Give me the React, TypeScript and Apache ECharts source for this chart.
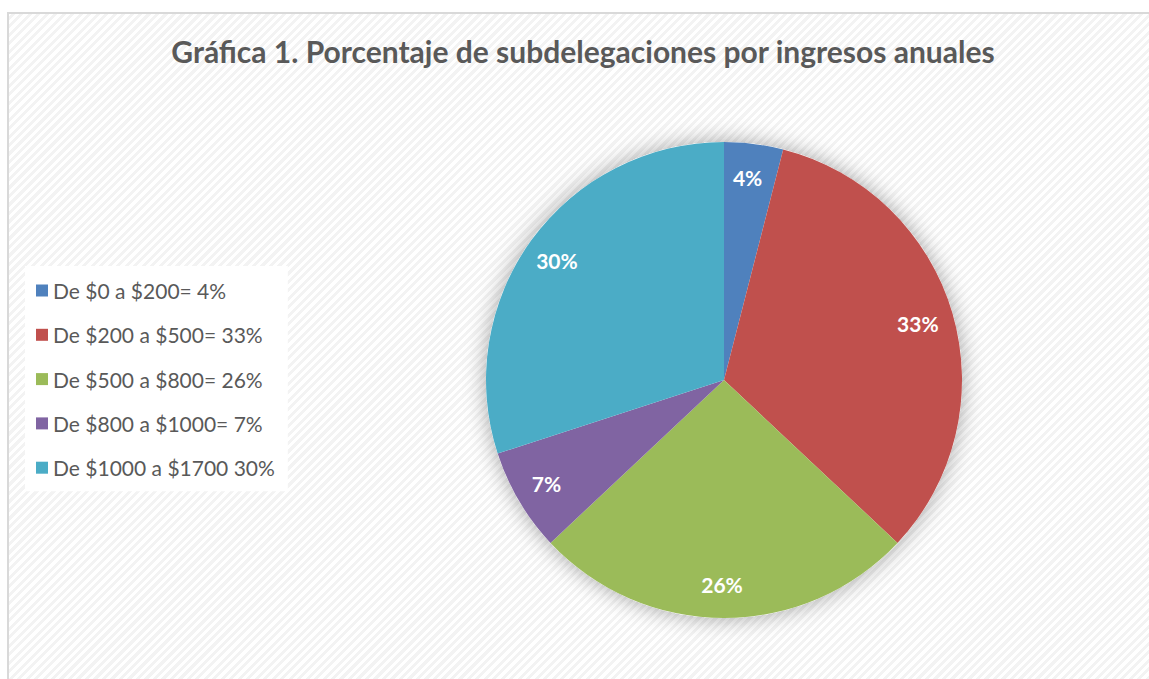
import React, { useEffect, useRef } from "react";
import * as echarts from "echarts";

const titleText = "Gráfica 1. Porcentaje de subdelegaciones por ingresos anuales";
const categories = [
  "De $0 a $200= 4%",
  "De $200 a $500= 33%",
  "De $500 a $800= 26%",
  "De $800 a $1000= 7%",
  "De $1000 a $1700 30%",
];
const values = [4, 33, 26, 7, 30];
const colors = ["#4F81BD", "#C0504D", "#9BBB59", "#8064A2", "#4BACC6"];

export default function App() {
  const ref = useRef<HTMLDivElement>(null);
  useEffect(() => {
    if (!ref.current) return;
    const chart = echarts.init(ref.current, undefined, { renderer: "svg" });
    const data = categories.map((name, i) => ({
      name,
      value: values[i],
      itemStyle: { color: colors[i] },
    }));
    chart.setOption({
      animation: false,
      backgroundColor: "transparent",
      title: {
        text: titleText,
        left: 578,
        textAlign: "center",
        top: 31,
        textStyle: {
          fontFamily: "Lato",
          fontWeight: "bold",
          fontSize: 30,
          color: "#595959",
        },
      },
      legend: {
        orient: "vertical",
        left: 25,
        top: 266,
        backgroundColor: "#ffffff",
        padding: [14, 13, 13, 11],
        icon: "rect",
        itemWidth: 12,
        itemHeight: 12,
        itemGap: 23.3,
        itemTextGap: 8,
        selectedMode: false,
        data: categories,
        textStyle: {
          fontFamily: "Lato",
          fontSize: 21,
          lineHeight: 20,
          color: "#595959",
        },
      },
      series: [
        {
          type: "pie",
          silent: true,
          center: [724, 380],
          radius: [0, 238],
          startAngle: 90,
          label: { show: false },
          labelLine: { show: false },
          itemStyle: {
            color: "#ffffff",
            shadowBlur: 22,
            shadowColor: "rgba(0,0,0,0.35)",
          },
          data: [{ name: "_shadow", value: 1 }],
          legendHoverLink: false,
        },
        {
          type: "pie",
          center: [724, 380],
          radius: [0, 238],
          startAngle: 90,
          clockwise: true,
          label: { show: false },
          labelLine: { show: false },
          itemStyle: { borderWidth: 0 },
          data,
        },
        {
          type: "pie",
          silent: true,
          center: [722, 380],
          radius: [162, 240],
          startAngle: 90,
          clockwise: true,
          itemStyle: { color: "rgba(0,0,0,0)" },
          labelLine: { show: false },
          label: {
            show: true,
            position: "inside",
            formatter: (p: any) => p.value + "%",
            color: "#ffffff",
            fontFamily: "Lato",
            fontWeight: "bold",
            fontSize: 21,
          },
          data: categories.map((name, i) => ({ name: "lbl" + i, value: values[i] })),
        },
      ],
    });
    return () => chart.dispose();
  }, []);

  return (
    <div
      style={{
        position: "absolute",
        left: 0,
        top: 0,
        width: 1149,
        height: 679,
        background: "#ffffff",
        overflow: "hidden",
      }}
    >
      <div
        style={{
          position: "absolute",
          left: 7,
          top: 12,
          width: 1160,
          height: 700,
          border: "2px solid #d9d9d9",
          boxSizing: "border-box",
          background:
            "repeating-linear-gradient(-45deg, #ffffff 0px, #ffffff 3px, #f3f3f3 3px, #f3f3f3 6px)",
        }}
      />
      <div
        ref={ref}
        style={{ position: "absolute", left: 0, top: 0, width: 1149, height: 679 }}
      />
    </div>
  );
}
